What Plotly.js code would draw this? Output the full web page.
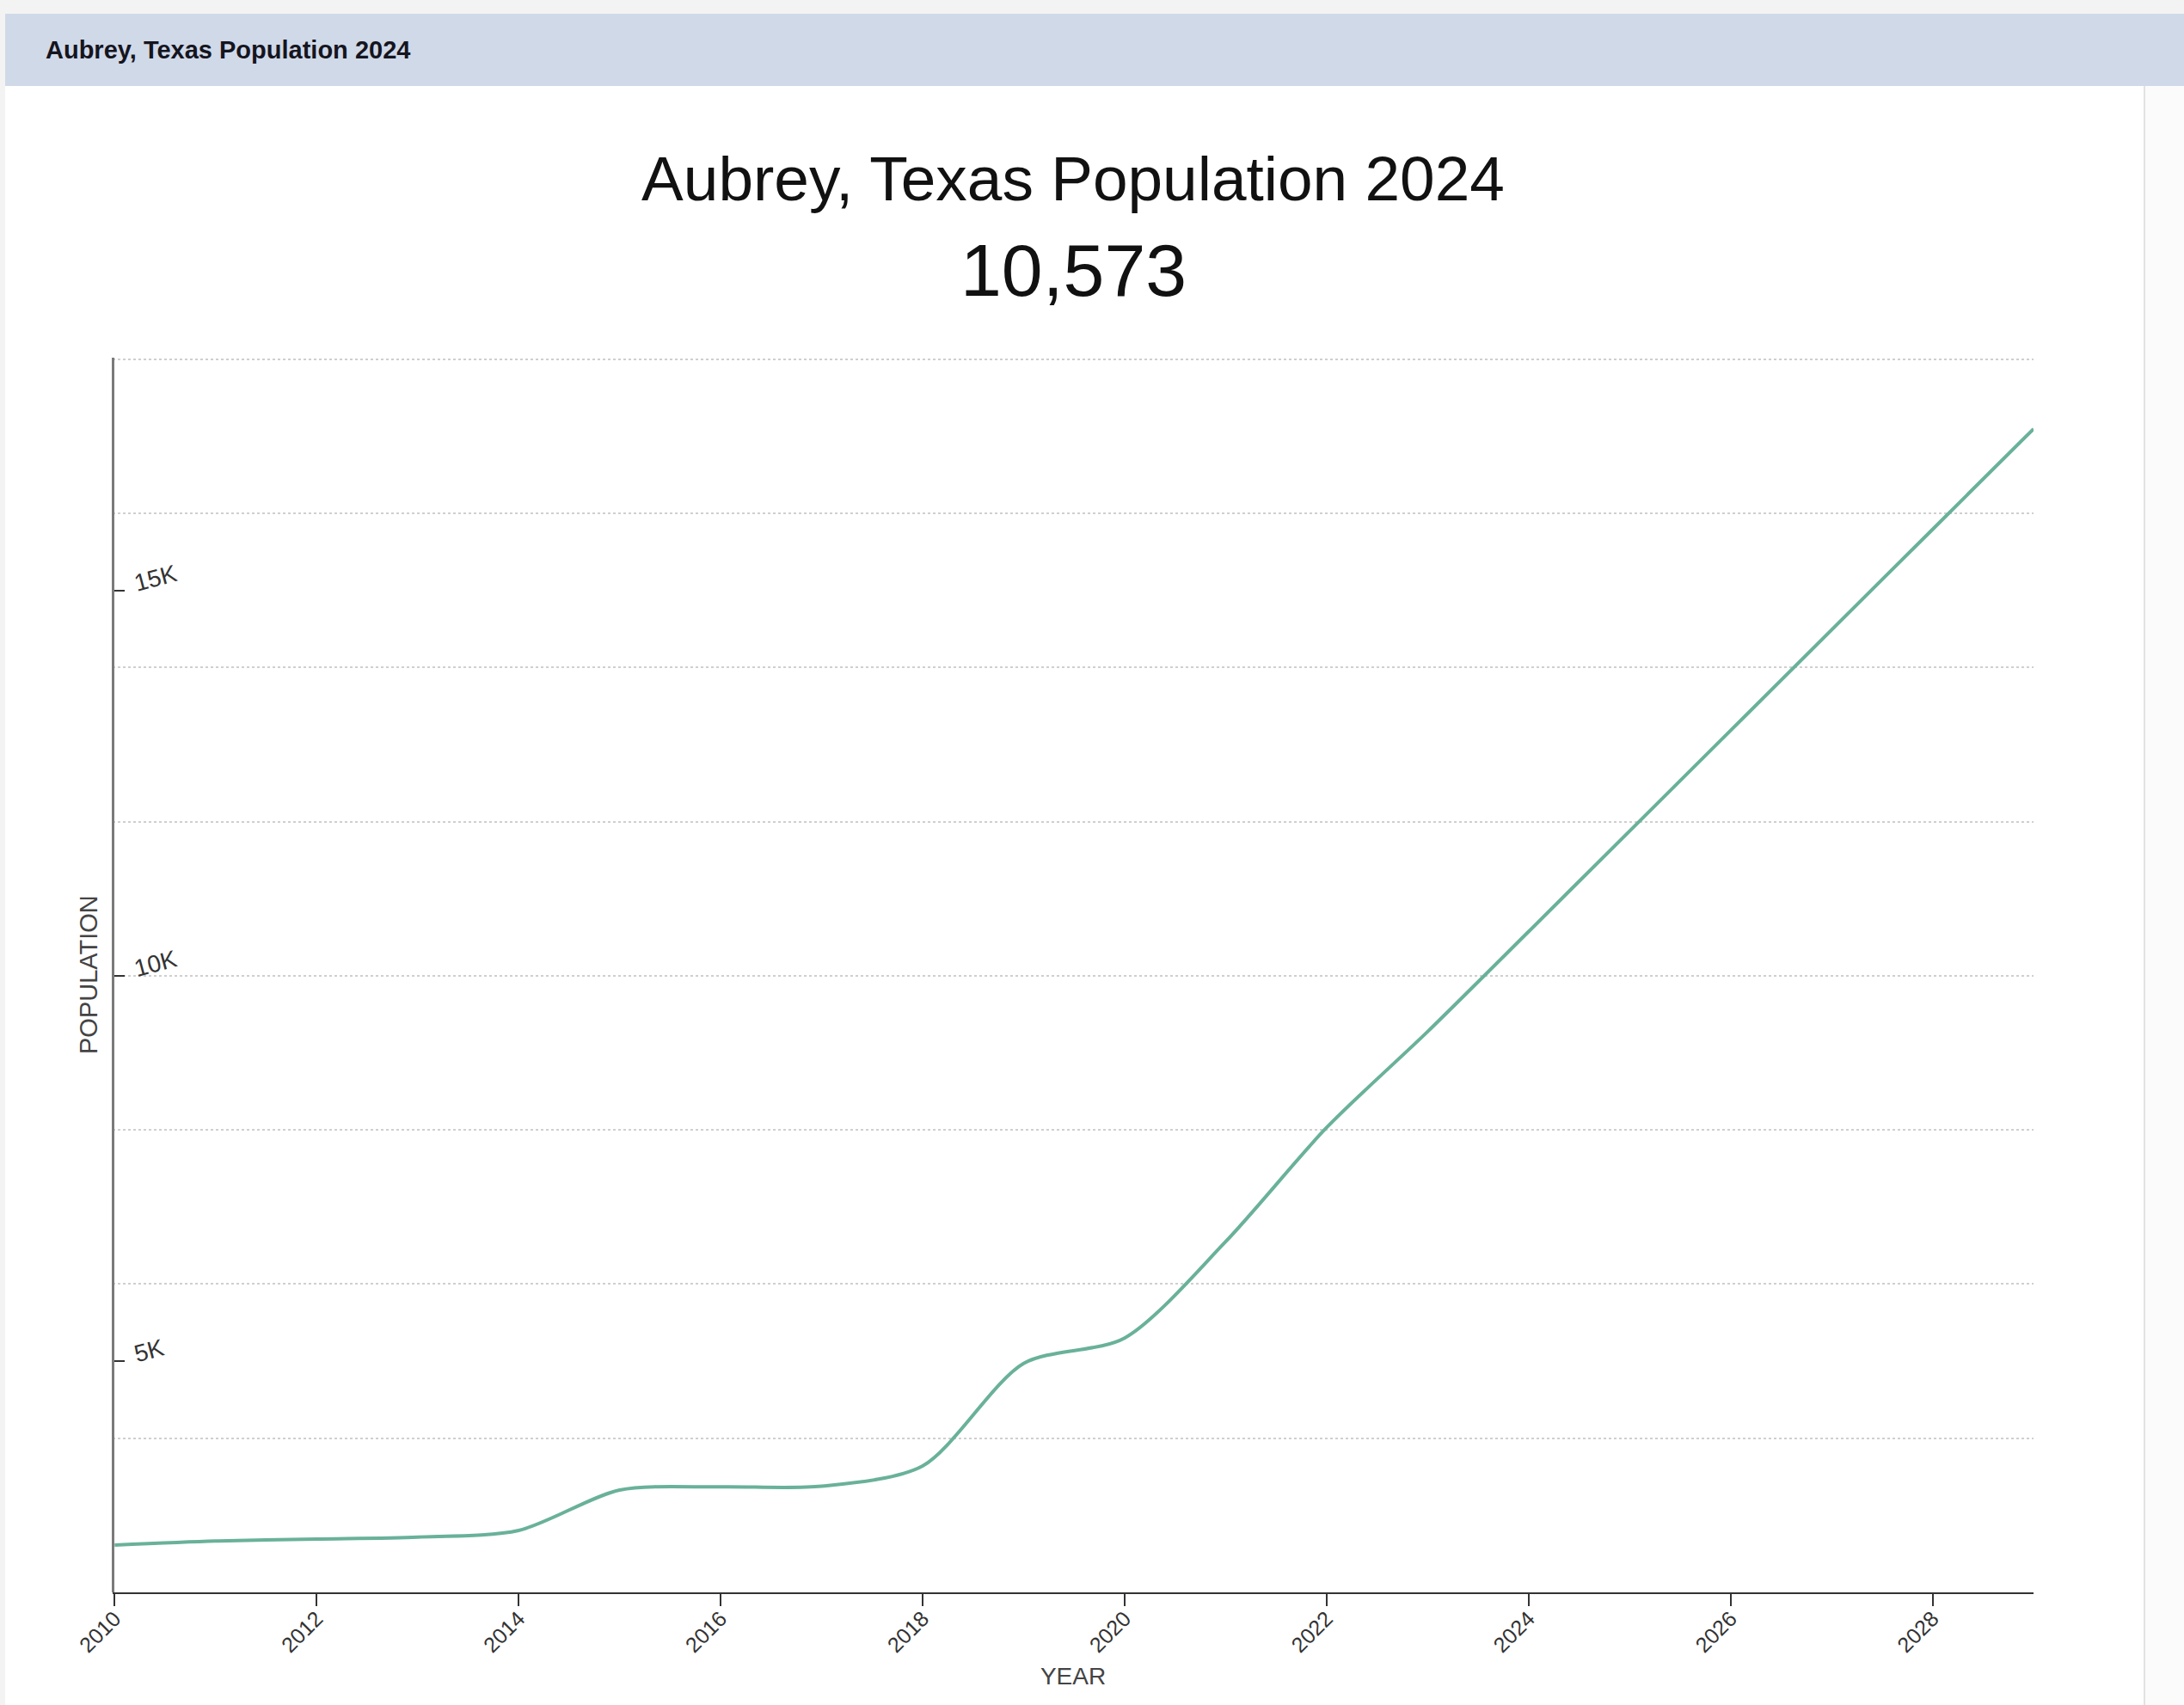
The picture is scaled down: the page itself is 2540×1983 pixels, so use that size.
<!DOCTYPE html>
<html>
<head>
<meta charset="utf-8">
<script src="https://cdn.plot.ly/plotly-3.0.1.min.js"></script>
<style>
  html, body { margin: 0; padding: 0; }
  body { width: 2540px; height: 1983px; overflow: hidden; background: #f3f3f3; position: relative;
         font-family: "Liberation Sans", Arial, sans-serif; }
  #hdr { position: absolute; left: 6px; top: 16px; width: 2534px; height: 84px; background: #d0d9e8; }
  #hdr span { position: absolute; left: 47px; top: 0; line-height: 84px; font-weight: bold; font-size: 29px; color: #15151f; }
  #right { position: absolute; left: 2493px; top: 100px; width: 47px; height: 1883px; background: #fbfbfb; }
  #card { position: absolute; left: 6px; top: 100px; width: 2487px; height: 1883px; background: #ffffff; border-right: 2px solid #e2e2e2; }
  #chart { position: absolute; left: 6px; top: 100px; width: 2487px; height: 1883px; }
</style>
</head>
<body>
<div id="hdr"><span>Aubrey, Texas Population 2024</span></div>
<div id="right"></div>
<div id="card"></div>
<div id="chart"></div>
<script>
// ---- data ----
const chartTitle = "Aubrey, Texas Population 2024";
const highlightYear = 2024;
const years = [2010, 2011, 2012, 2013, 2014, 2015, 2016, 2017, 2018, 2019,
               2020, 2021, 2022, 2023, 2024, 2025, 2026, 2027, 2028, 2029];
const population = [2614, 2666, 2692, 2718, 2803, 3328, 3369, 3378, 3640, 4970,
                    5300, 6550, 8030, 9275, 10573, 11878, 13183, 14487, 15792, 17096];
const xTickVals = [2010, 2012, 2014, 2016, 2018, 2020, 2022, 2024, 2026, 2028];
const yTickVals = [5000, 10000, 15000];
const yTickText = ["5K", "10K", "15K"];
const yGridVals = [4000, 6000, 8000, 10000, 12000, 14000, 16000, 18000];
const xLabel = "YEAR";
const yLabel = "POPULATION";

const FONT = "Liberation Sans, Arial, sans-serif";
const highlightValue = population[years.indexOf(highlightYear)].toLocaleString("en-US");
const plotW = 2487 - 125 - 128;

const trace = {
  x: years,
  y: population,
  type: "scatter",
  mode: "lines",
  line: { color: "#69b19a", width: 4, shape: "spline", smoothing: 0.8 },
  hoverinfo: "x+y"
};

const layout = {
  width: 2487,
  height: 1883,
  paper_bgcolor: "rgba(0,0,0,0)",
  plot_bgcolor: "#ffffff",
  margin: { l: 125, r: 128, t: 316, b: 131, pad: 0 },
  showlegend: false,
  font: { family: FONT, color: "#333333" },
  title: {
    text: chartTitle,
    font: { family: FONT, size: 73, color: "#111111" },
    x: 0.5, xref: "paper", xanchor: "center",
    y: 1 - 107 / 1883, yref: "container", yanchor: "middle"
  },
  annotations: [{
    text: highlightValue,
    xref: "paper", yref: "paper",
    x: 0.5, y: 1 + 102 / 1436,
    xanchor: "center", yanchor: "middle",
    showarrow: false,
    font: { family: FONT, size: 86, color: "#111111" }
  }, {
    // y-axis title (the y axis carries its labels on the inner side)
    text: yLabel,
    xref: "paper", yref: "paper",
    x: -28 / plotW, y: 0.5,
    xanchor: "center", yanchor: "middle",
    textangle: -90,
    showarrow: false,
    font: { family: FONT, size: 29, color: "#444444" }
  }],
  xaxis: {
    range: [2009.98, 2029],
    tickmode: "array",
    tickvals: xTickVals,
    ticktext: xTickVals.map(String),
    tickangle: -45,
    ticks: "outside",
    ticklen: 14,
    tickwidth: 2,
    tickcolor: "#333333",
    ticklabelstandoff: -10,
    ticklabeloverflow: "allow",
    tickfont: { family: FONT, size: 25, color: "#333333" },
    showline: true,
    linecolor: "#333333",
    linewidth: 2,
    showgrid: false,
    zeroline: false,
    title: { text: xLabel, font: { family: FONT, size: 28, color: "#444444" }, standoff: 13 }
  },
  yaxis: {
    range: [2000, 18020],
    anchor: "free",
    position: 0,
    side: "right",
    tickmode: "array",
    tickvals: yTickVals,
    ticktext: yTickText,
    tickangle: -15,
    ticks: "outside",
    ticklen: 12,
    tickwidth: 2,
    tickcolor: "#333333",
    ticklabelstandoff: 5,
    ticklabelshift: -8,
    tickfont: { family: FONT, size: 28, color: "#333333" },
    showline: true,
    linecolor: "#7a7a7a",
    linewidth: 3,
    showgrid: false,
    zeroline: false,
    minor: {
      tickmode: "array",
      tickvals: yGridVals,
      ticks: "",
      showgrid: true,
      gridcolor: "#cfcfcf",
      gridwidth: 2,
      griddash: "dot"
    }
  }
};

Plotly.newPlot("chart", [trace], layout, { displayModeBar: false, staticPlot: true });
</script>
</body>
</html>
